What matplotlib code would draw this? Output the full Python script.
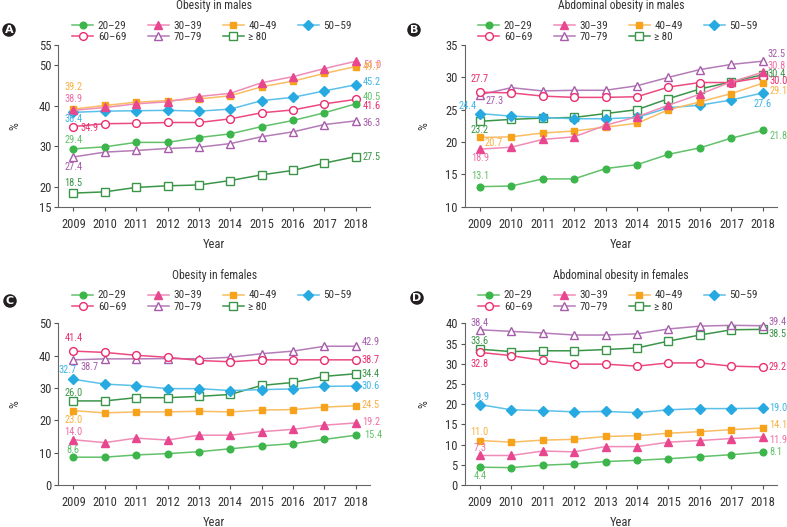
import matplotlib
matplotlib.use("Agg")
import matplotlib.pyplot as plt
from matplotlib import font_manager
from matplotlib.patches import Ellipse

# ---------------- data ----------------
years = [2009, 2010, 2011, 2012, 2013, 2014, 2015, 2016, 2017, 2018]
groups = ["20–29", "30–39", "40–49", "50–59", "60–69", "70–79", "≥ 80"]

# A: Obesity in males
a_2029 = [29.4, 29.9, 31.0, 31.0, 32.2, 33.1, 34.9, 36.4, 38.3, 40.5]
a_3039 = [38.9, 39.6, 40.5, 41.0, 42.3, 43.1, 45.7, 47.2, 49.2, 51.0]
a_4049 = [39.2, 40.1, 40.9, 41.3, 41.7, 42.5, 44.7, 46.1, 48.0, 49.7]
a_5059 = [38.4, 38.7, 38.8, 38.9, 38.7, 39.2, 41.3, 42.1, 43.7, 45.2]
a_6069 = [34.9, 35.6, 35.7, 35.9, 35.9, 36.8, 38.3, 39.0, 40.5, 41.6]
a_7079 = [27.4, 28.6, 29.0, 29.5, 29.8, 30.7, 32.4, 33.6, 35.4, 36.3]
a_80 = [18.5, 18.8, 19.9, 20.3, 20.5, 21.6, 23.0, 24.1, 25.9, 27.5]

# B: Abdominal obesity in males
b_2029 = [13.1, 13.2, 14.3, 14.3, 15.9, 16.5, 18.1, 19.1, 20.6, 21.8]
b_3039 = [18.9, 19.2, 20.4, 20.8, 22.6, 23.9, 25.7, 27.4, 29.3, 30.8]
b_4049 = [20.7, 20.8, 21.4, 21.7, 22.3, 22.9, 25.0, 26.2, 27.5, 29.1]
b_5059 = [24.4, 24.0, 23.8, 23.6, 23.6, 23.8, 25.3, 25.7, 26.5, 27.6]
b_6069 = [27.7, 27.6, 27.1, 26.9, 26.9, 27.0, 28.5, 29.2, 29.2, 30.0]
b_7079 = [27.3, 28.4, 27.9, 28.0, 28.0, 28.7, 30.0, 31.2, 32.0, 32.5]
b_80 = [23.2, 23.5, 23.7, 23.8, 24.4, 25.0, 26.7, 28.2, 29.3, 30.4]

# C: Obesity in females
c_2029 = [8.6, 8.6, 9.3, 9.7, 10.3, 11.2, 12.1, 12.8, 14.1, 15.4]
c_3039 = [14.0, 13.1, 14.5, 13.9, 15.4, 15.4, 16.5, 17.2, 18.5, 19.2]
c_4049 = [23.0, 22.3, 22.6, 22.6, 22.8, 22.6, 23.2, 23.3, 24.1, 24.5]
c_5059 = [32.7, 31.2, 30.7, 29.8, 29.8, 29.2, 29.5, 29.7, 30.5, 30.6]
c_6069 = [41.4, 41.0, 40.1, 39.5, 38.5, 38.1, 38.7, 38.7, 38.7, 38.7]
c_7079 = [38.7, 39.0, 39.0, 39.1, 39.0, 39.5, 40.6, 41.4, 42.9, 42.9]
c_80 = [26.0, 26.0, 27.0, 27.0, 27.4, 28.0, 30.8, 31.7, 33.6, 34.4]

# D: Abdominal obesity in females
d_2029 = [4.4, 4.3, 4.9, 5.2, 5.8, 6.1, 6.5, 7.0, 7.5, 8.1]
d_3039 = [7.3, 7.3, 8.4, 8.2, 9.5, 9.5, 10.6, 11.0, 11.5, 11.9]
d_4049 = [11.0, 10.6, 11.1, 11.3, 12.0, 12.2, 12.8, 13.2, 13.7, 14.1]
d_5059 = [19.9, 18.6, 18.4, 18.1, 18.2, 17.9, 18.6, 18.9, 18.9, 19.0]
d_6069 = [32.8, 32.0, 30.8, 29.9, 29.9, 29.4, 30.2, 30.2, 29.4, 29.2]
d_7079 = [38.4, 38.0, 37.6, 37.1, 37.1, 37.4, 38.6, 39.3, 39.5, 39.4]
d_80 = [33.6, 33.0, 33.2, 33.2, 33.5, 33.9, 35.6, 37.1, 38.4, 38.5]

titles = ["Obesity in males", "Abdominal obesity in males",
          "Obesity in females", "Abdominal obesity in females"]
letters = ["A", "B", "C", "D"]
y_ticks = [[15, 20, 30, 40, 50, 55],
           [10, 15, 20, 25, 30, 35],
           [0, 10, 20, 30, 40, 50],
           [0, 5, 10, 15, 20, 25, 30, 35, 40]]

panels = [
    [a_2029, a_3039, a_4049, a_5059, a_6069, a_7079, a_80],
    [b_2029, b_3039, b_4049, b_5059, b_6069, b_7079, b_80],
    [c_2029, c_3039, c_4049, c_5059, c_6069, c_7079, c_80],
    [d_2029, d_3039, d_4049, d_5059, d_6069, d_7079, d_80],
]

# ---------------- style ----------------
names = {f.name for f in font_manager.fontManager.ttflist}
font = "DejaVu Sans"
for cand in ["Liberation Sans Narrow", "Roboto Condensed", "Open Sans Condensed",
             "Liberation Sans", "Roboto"]:
    if cand in names:
        font = cand
        break
plt.rcParams["font.family"] = [font, "DejaVu Sans"]

mk_col = ["#3cb54a", "#e8468f", "#f7a21b", "#27aae1", "#eb2d6f", "#a65bab", "#3b9549"]
ln_col = ["#62c16a", "#f08cb8", "#f9bd63", "#5cc0ea", "#ec4a80", "#b47cb8", "#3b9549"]
lb_col = ["#62c16a", "#ee6fa6", "#f9b042", "#41b6e6", "#eb2d6f", "#a65bab", "#3b9549"]
markers = ["o", "^", "s", "D", "o", "^", "s"]
filled = [True, True, True, True, False, False, False]
msizes = [4.8, 5.2, 5.0, 5.2, 5.6, 6.0, 5.6]

W, H = 787, 527
rects_px = [(58.3, 370, 207.3, 45), (464.7, 777, 206.7, 45),
            (58.3, 370, 485, 323.3), (464.7, 777, 485, 323.3)]
title_y = [6, 6, 275, 275]
legend_y = [31.7, 31.7, 301, 301]
legend_x = [212, 618, 212, 618]
letter_xy = [(9, 30), (414, 30), (10, 301), (417, 298)]
ylabel_x = [15, 424, 15, 424]

# label offsets in pixels: (dx, dy, ha) for first and last point of each series
first_off = [
    [(0, 9, "center"), (0, 11, "center"), (0, 22, "center"), (0, -7, "center"),
     (7, -1, "left"), (0, -10, "center"), (0, 10, "center")],
    [(0, 11, "center"), (0, -9, "center"), (5, -6, "left"), (-3, 8, "right"),
     (0, 13, "center"), (6, -6, "left"), (0, -9, "center")],
    [(0, 7, "center"), (0, 8, "center"), (0, -9, "center"), (-6, 9, "center"),
     (0, 13, "center"), (7, -7, "left"), (0, 8, "center")],
    [(0, -9, "center"), (0, 7, "center"), (0, 9, "center"), (0, 8, "center"),
     (0, -12, "center"), (0, 7, "center"), (0, 8, "center")],
]
last_off = [
    [(7, 7, "left"), (7, -4, "left"), (7, 0, "left"), (7, 3, "left"),
     (7, -7, "left"), (7, -2, "left"), (7, 0, "left")],
    [(7, -6, "left"), (5, 6, "left"), (7, -8, "left"), (0, -11, "center"),
     (7, -4, "left"), (5, 7, "left"), (5, 1, "left")],
    [(8, 0, "left"), (6, 1, "left"), (6, 1, "left"), (6, 0, "left"),
     (6, 0, "left"), (6, 4, "left"), (6, 0, "left")],
    [(7, 0, "left"), (6, -3, "left"), (6, 3, "left"), (6, 0, "left"),
     (6, 0, "left"), (6, 4, "left"), (6, -5, "left")],
]

fig = plt.figure(figsize=(W / 100, H / 100), dpi=100)

for p in range(4):
    l, r, b, t = rects_px[p]
    ax = fig.add_axes([l / W, 1 - b / H, (r - l) / W, (b - t) / H])
    data = panels[p]
    handles = []
    for i, vals in enumerate(data):
        mfc = mk_col[i] if filled[i] else "white"
        h, = ax.plot(years, vals, color=ln_col[i], lw=1.1, marker=markers[i],
                     ms=msizes[i], mfc=mfc, mec=mk_col[i], mew=1.0,
                     clip_on=False, zorder=3 + (7 - i) * 0.1)
        handles.append(h)
        for k, offs in ((0, first_off[p][i]), (-1, last_off[p][i])):
            dx, dy, ha = offs
            ax.annotate(f"{vals[k]:.1f}", (years[k], vals[k]),
                        xytext=(dx, dy), textcoords="offset pixels",
                        ha=ha, va="center", fontsize=7.5, color=lb_col[i],
                        zorder=6)
    ax.set_xlim(2008.52, 2018.45)
    ax.set_ylim(y_ticks[p][0], y_ticks[p][-1])
    ax.set_yticks(y_ticks[p])
    ax.set_xticks(years)
    ax.tick_params(axis="both", direction="out", length=3, width=0.8,
                   colors="#555555", labelsize=9, labelcolor="#333333", pad=2)
    ax.tick_params(axis="x", pad=5)
    for s in ["top", "right"]:
        ax.spines[s].set_visible(False)
    for s in ["left", "bottom"]:
        ax.spines[s].set_color("#666666")
        ax.spines[s].set_linewidth(0.8)
    ax.set_xlabel("Year", fontsize=9, color="#333333", labelpad=5)
    ax.patch.set_alpha(0)

    cx = (l + r) / 2
    fig.text(cx / W, 1 - title_y[p] / H, titles[p], ha="center", va="center",
             fontsize=8.4, color="#333333")
    fig.text(ylabel_x[p] / W, 1 - ((b + t) / 2) / H, "%", rotation=90,
             ha="center", va="center", fontsize=9, color="#333333")

    order = [0, 4, 1, 5, 2, 6, 3]
    ax.legend([handles[j] for j in order], [groups[j] for j in order],
              ncol=4, loc="center",
              bbox_to_anchor=(legend_x[p] / W, 1 - legend_y[p] / H),
              bbox_transform=fig.transFigure, frameon=False,
              fontsize=8.0, handlelength=1.9, handletextpad=0.4,
              columnspacing=1.9, labelspacing=0.1, borderpad=0,
              labelcolor="#333333")

    lx, ly = letter_xy[p]
    fig.patches.append(Ellipse((lx / W, 1 - ly / H), 13.5 / W, 13.5 / H,
                               transform=fig.transFigure, facecolor="#231f20",
                               edgecolor="none"))
    fig.text(lx / W, 1 - ly / H, letters[p], ha="center", va="center",
             fontsize=8, fontweight="bold", color="white",
             family=["DejaVu Sans"])

fig.savefig("out.png", dpi=100)
